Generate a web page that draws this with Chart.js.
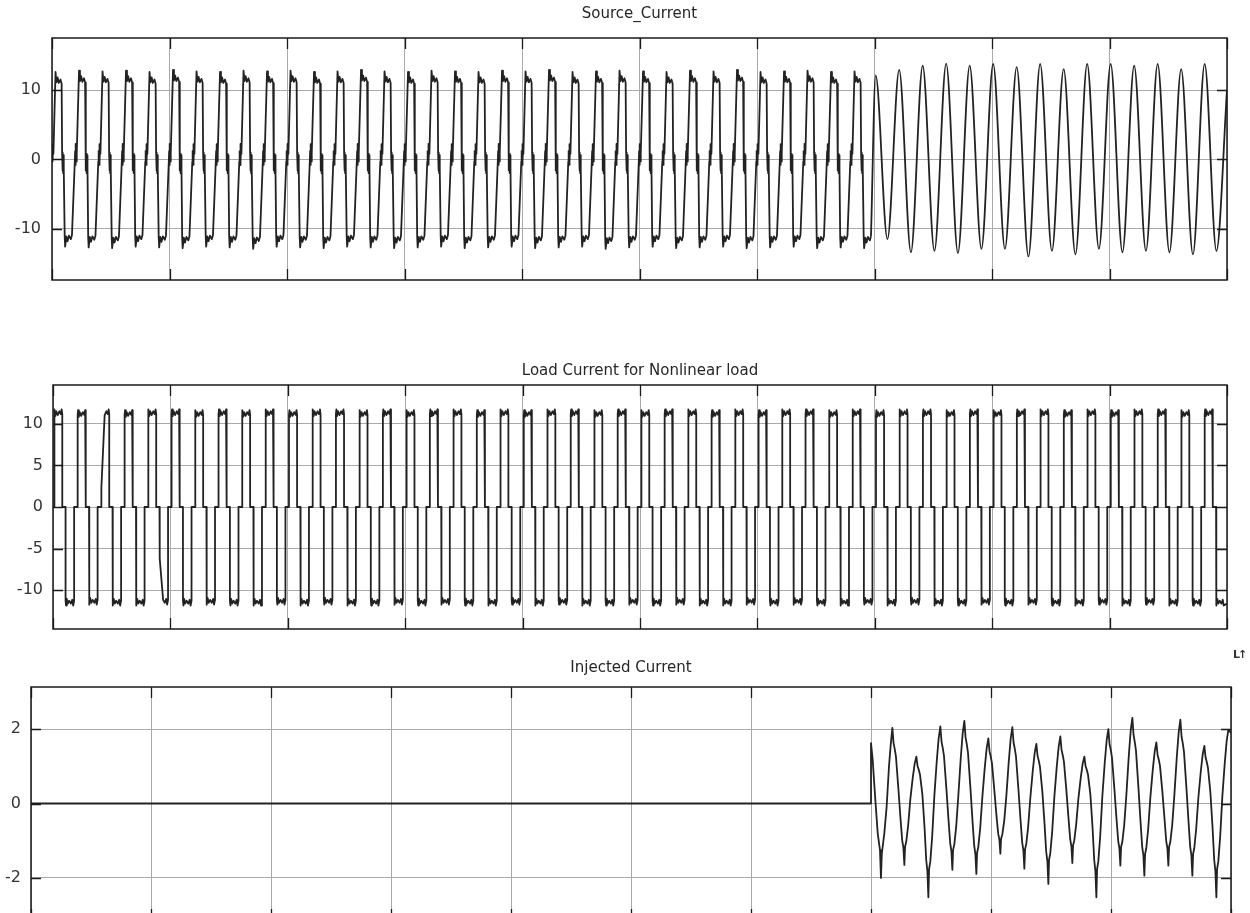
<!DOCTYPE html>
<html><head><meta charset="utf-8">
<script src="https://cdn.jsdelivr.net/npm/chart.js@4.4.1/dist/chart.umd.min.js"></script>
<style>
html,body{margin:0;padding:0;background:#fff;overflow:hidden;width:1250px;height:913px;position:relative;}
.box{position:absolute;left:0;width:1250px;}
#icon{position:absolute;left:1233px;top:648px;font:bold 11px "DejaVu Sans",sans-serif;color:#333;letter-spacing:-2px;}
</style></head><body>
<div class="box" style="top:0px;height:304px"><canvas id="c1"></canvas></div>
<div class="box" style="top:310px;height:343px"><canvas id="c2"></canvas></div>
<div class="box" style="top:650px;height:294px"><canvas id="c3"></canvas></div>
<div id="icon">L↑</div>
<script>
// ---------- shared axis data ----------
const xTicks = [0, 0.1, 0.2, 0.3, 0.4, 0.5, 0.6, 0.7, 0.8, 0.9, 1.0];
const sourceTicks = [-10, 0, 10];
const loadTicks = [-10, -5, 0, 5, 10];
const injectedTicks = [-2, 0, 2];
const cyclePeriod = 0.02;          // 50 Hz
const titles = ["Source_Current", "Load Current for Nonlinear load", "Injected Current"];

// ---------- Source current: distorted part (one cycle, 12.7 A peak) ----------
const srcShapePhase = [0.00, 0.015, 0.03, 0.045, 0.06, 0.15, 0.19, 0.24, 0.29, 0.36, 0.41, 0.43, 0.445, 0.46, 0.475, 0.49, 0.51, 0.54, 0.56, 0.61, 0.66, 0.72, 0.80, 0.85, 0.97, 0.985];
const srcShapeValue = [-0.8, 2.2, -0.3, 1.8, 0.8, 12.7, 11.2, 11.9, 11.1, 11.6, 11.0, 1.0, -1.6, 0.8, -2.0, 0.6, -1.3, -11.2, -12.7, -11.2, -11.9, -11.1, -11.6, -11.0, -0.3, 1.2];
const srcPosPeak = [12.6, 12.8, 12.7, 12.8, 12.6, 12.9, 12.7, 12.6, 12.8, 12.7, 12.8, 12.6, 12.7, 12.9, 12.7, 12.6, 12.8, 12.7, 12.6, 12.8,
                    12.7, 12.9, 12.6, 12.7, 12.8, 12.7, 12.6, 12.8, 12.7, 12.9, 12.6, 12.7, 12.8, 12.6, 12.7];
const srcNegPeak = [-12.6, -12.7, -12.8, -12.6, -12.7, -12.8, -12.6, -12.7, -12.9, -12.6, -12.7, -12.8, -12.6, -12.7, -12.8, -12.7, -12.6, -12.8, -12.7, -12.6,
                    -12.8, -12.7, -12.6, -12.9, -12.7, -12.6, -12.8, -12.7, -12.6, -12.8, -12.7, -12.6, -12.8, -12.7, -12.8];
// ---------- Source current after compensation (t > 0.7 s) ----------
const sineFirstPeak = 0.701;
const sinePeak   = [12.1, 12.9, 13.5, 13.8, 13.5, 13.75, 13.3, 13.75, 13.0, 13.75, 13.75, 13.5, 13.75, 13.0, 13.75];
const sineTrough = [-11.5, -13.4, -13.2, -13.5, -12.9, -12.9, -14.0, -13.2, -13.7, -12.9, -13.4, -13.2, -13.4, -13.7, -13.2];
const sineEndValue = 10.0;

// ---------- Load current (nonlinear load) ----------
const loadFirstRise = 0.001;
const loadShapePhase = [0, 0, 0.02, 0.05, 0.09, 0.15, 0.22, 0.28, 0.32, 0.345, 0.345, 0.485, 0.485, 0.505, 0.535, 0.58, 0.64, 0.71, 0.77, 0.81, 0.85, 0.85];
const loadShapeFrac  = [0, 0.97, 1.02, 0.95, 1.0, 0.96, 1.0, 0.97, 1.02, 0.97, 0, 0, -0.97, -1.02, -0.95, -1.0, -0.97, -1.0, -0.96, -1.02, -0.97, 0];
const loadTop = [11.5, 11.4, 11.5, 11.4, 11.5, 11.5, 11.4, 11.5, 11.4, 11.5, 11.4, 11.5, 11.5, 11.4, 11.5, 11.4, 11.5, 11.5, 11.4, 11.5,
                 11.4, 11.5, 11.5, 11.4, 11.5, 11.4, 11.5, 11.5, 11.4, 11.5, 11.4, 11.5, 11.5, 11.4, 11.5, 11.4, 11.5, 11.5, 11.4, 11.5,
                 11.4, 11.5, 11.5, 11.4, 11.5, 11.4, 11.5, 11.5, 11.4, 11.5];
const loadBottom = [-11.6, -11.5, -11.6, -11.6, -11.5, -11.6, -11.5, -11.6, -11.6, -11.5, -11.6, -11.5, -11.6, -11.6, -11.5, -11.6, -11.5, -11.6, -11.6, -11.5,
                    -11.6, -11.5, -11.6, -11.6, -11.5, -11.6, -11.5, -11.6, -11.6, -11.5, -11.6, -11.5, -11.6, -11.6, -11.5, -11.6, -11.5, -11.6, -11.6, -11.5,
                    -11.6, -11.5, -11.6, -11.6, -11.5, -11.6, -11.5, -11.6, -11.6, -11.6];
const loadSteps = [{cycle: 2, phase: 0, level: 2.3, ramp: 0.13}, {cycle: 4, phase: 0.485, level: -6.2, ramp: 0.14}];

// ---------- Injected current ----------
const injLeadTime  = [0, 0.7, 0.7, 0.7014, 0.7036, 0.7056, 0.7075, 0.7083, 0.7090, 0.7111, 0.7130, 0.7150, 0.7165];
const injLeadValue = [0, 0, 1.62, 1.17, 0.1, -0.8, -1.26, -2.0, -1.35, -0.8, -0.1, 1.0, 1.6];
const injFirstPeak = 0.7178;
const injPeak   = [2.03, 1.26, 2.07, 2.22, 1.75, 2.05, 1.6, 1.8, 1.26, 2.0, 2.3, 1.64, 2.25, 1.55, 1.98];
const injTrough = [-1.65, -2.52, -1.78, -1.89, -1.35, -1.75, -2.16, -1.6, -2.52, -1.67, -1.94, -1.67, -1.94, -2.52];
const injShapePhase = [0.05, 0.10, 0.15, 0.25, 0.34, 0.41, 0.46, 0.50, 0.53, 0.58, 0.66, 0.75, 0.85, 0.93];
const injShapeFrac  = [0.80, 0.72, 0.62, 0.2, -0.25, -0.6, -0.72, -1.0, -0.7, -0.62, -0.35, 0.1, 0.55, 0.85];
const injEndValue = 1.9;

// ---------- build point lists ----------
function buildSourceDistorted() {
  const pts = [];
  const n = srcPosPeak.length;
  for (let k = 0; k < n; k++) {
    for (let i = 0; i < srcShapePhase.length; i++) {
      const ph = srcShapePhase[i];
      if (k === 0 && i === 0) { pts.push({x: 0, y: 0}); continue; }
      if (k === n - 1 && ph > 0.85) break;
      const v = srcShapeValue[i];
      const s = v >= 0 ? srcPosPeak[k] / 12.7 : -srcNegPeak[k] / 12.7;
      pts.push({x: cyclePeriod * (k + ph), y: v * s});
    }
  }
  return pts;
}
function buildSourceSine(lastPoint) {
  const pts = [lastPoint];
  for (let k = 0; k < sinePeak.length; k++) {
    pts.push({x: sineFirstPeak + cyclePeriod * k, y: sinePeak[k]});
    pts.push({x: sineFirstPeak + cyclePeriod * (k + 0.5), y: sineTrough[k]});
  }
  pts.push({x: 1.0, y: sineEndValue});
  return pts;
}
function buildLoad() {
  const pts = [{x: 0, y: 0}];
  const n = loadTop.length;
  for (let k = 0; k < n; k++) {
    const t0 = loadFirstRise + cyclePeriod * k;
    const ev = loadSteps.find(e => e.cycle === k);
    let evDone = false;
    for (let i = 0; i < loadShapePhase.length; i++) {
      const ph = loadShapePhase[i], f = loadShapeFrac[i];
      const t = t0 + cyclePeriod * ph;
      if (k === n - 1 && i >= loadShapePhase.length - 2) break;
      if (ev && f !== 0 && ph >= ev.phase && ph < ev.phase + ev.ramp) {
        if (!evDone) {
          pts.push({x: t0 + cyclePeriod * ev.phase, y: ev.level});
          pts.push({x: t0 + cyclePeriod * (ev.phase + 0.02), y: ev.level});
          evDone = true;
        }
        continue;
      }
      if (t > 1.0) continue;
      pts.push({x: t, y: f * (f >= 0 ? loadTop[k] : -loadBottom[k])});
    }
  }
  pts.push({x: 1.0, y: loadBottom[n - 1]});
  return pts;
}
function buildInjected() {
  const pts = injLeadTime.map((t, i) => ({x: t, y: injLeadValue[i]}));
  for (let k = 0; k < injPeak.length; k++) {
    const tp = injFirstPeak + cyclePeriod * k;
    pts.push({x: tp, y: injPeak[k]});
    if (k >= injTrough.length) continue;
    for (let i = 0; i < injShapePhase.length; i++) {
      const ph = injShapePhase[i], f = injShapeFrac[i];
      let s;
      if (f < 0) s = -injTrough[k];
      else s = ph < 0.5 ? injPeak[k] : injPeak[k + 1];
      pts.push({x: tp + cyclePeriod * ph, y: f * s});
    }
  }
  pts.push({x: 1.0, y: injEndValue});
  return pts;
}

// ---------- MATLAB-style box & inward ticks ----------
const matlabAxes = {
  id: 'matlabAxes',
  afterDraw(chart) {
    const {ctx, chartArea: a, scales: {x, y}} = chart;
    ctx.save();
    ctx.strokeStyle = '#1a1a1a';
    ctx.lineWidth = 1.3;
    ctx.beginPath();
    y.ticks.forEach(tk => {
      const p = Math.round(y.getPixelForValue(tk.value)) + 0.5;
      ctx.moveTo(a.left, p); ctx.lineTo(a.left + 10, p);
      ctx.moveTo(a.right - 10, p); ctx.lineTo(a.right, p);
    });
    x.ticks.forEach(tk => {
      const p = Math.round(x.getPixelForValue(tk.value)) + 0.5;
      ctx.moveTo(p, a.top); ctx.lineTo(p, a.top + 11);
      ctx.moveTo(p, a.bottom - 11); ctx.lineTo(p, a.bottom);
    });
    ctx.stroke();
    ctx.lineWidth = 1.5;
    ctx.strokeRect(a.left, a.top, a.right - a.left, a.bottom - a.top);
    ctx.restore();
  }
};

function makeChart(id, datasets, opt) {
  const grid = {color: '#aaaaaa', lineWidth: 1, drawTicks: false};
  return new Chart(document.getElementById(id), {
    type: 'line',
    data: {datasets},
    options: {
      responsive: true, maintainAspectRatio: false, animation: false,
      layout: {padding: {left: 0, right: opt.padRight, top: 0, bottom: 24}},
      plugins: {
        legend: {display: false}, tooltip: {enabled: false},
        title: {display: true, text: opt.title, fullSize: false, color: '#262626',
                font: {family: 'DejaVu Sans', size: 15, weight: 'normal'},
                padding: {top: opt.titleTop, bottom: opt.titleBottom}}
      },
      scales: {
        x: {type: 'linear', min: 0, max: 1, grid, border: {display: false},
            ticks: {display: false},
            afterBuildTicks: s => { s.ticks = xTicks.map(v => ({value: v})); },
            afterFit: s => { s.height = 0; }},
        y: {type: 'linear', min: opt.yMin, max: opt.yMax, grid, border: {display: false},
            ticks: {color: '#333333', font: {family: 'DejaVu Sans', size: 16}, padding: opt.tickPad, autoSkip: false},
            afterBuildTicks: s => { s.ticks = opt.yTicks.map(v => ({value: v})); },
            afterFit: s => { s.width = opt.yWidth; }}
      }
    },
    plugins: [matlabAxes]
  });
}
const lineStyle = {borderColor: '#222222', borderWidth: 1.8, pointRadius: 0, fill: false, borderJoinStyle: 'round'};

const srcDist = buildSourceDistorted();
const srcSine = buildSourceSine(srcDist[srcDist.length - 1]);
makeChart('c1', [
  Object.assign({data: srcDist, tension: 0}, lineStyle),
  Object.assign({data: srcSine, cubicInterpolationMode: 'monotone'}, lineStyle)
], {title: titles[0], yMin: -17.4, yMax: 17.5, yTicks: sourceTicks, yWidth: 52, padRight: 23, tickPad: 11, titleTop: 5, titleBottom: 15});

makeChart('c2', [Object.assign({data: buildLoad(), tension: 0}, lineStyle)],
  {title: titles[1], yMin: -14.65, yMax: 14.65, yTicks: loadTicks, yWidth: 53, padRight: 23, tickPad: 10, titleTop: 52, titleBottom: 5});

makeChart('c3', [Object.assign({data: buildInjected(), tension: 0}, lineStyle)],
  {title: titles[2], yMin: -3.13, yMax: 3.13, yTicks: injectedTicks, yWidth: 31, padRight: 19, tickPad: 10, titleTop: 9, titleBottom: 10});
</script>
</body></html>
